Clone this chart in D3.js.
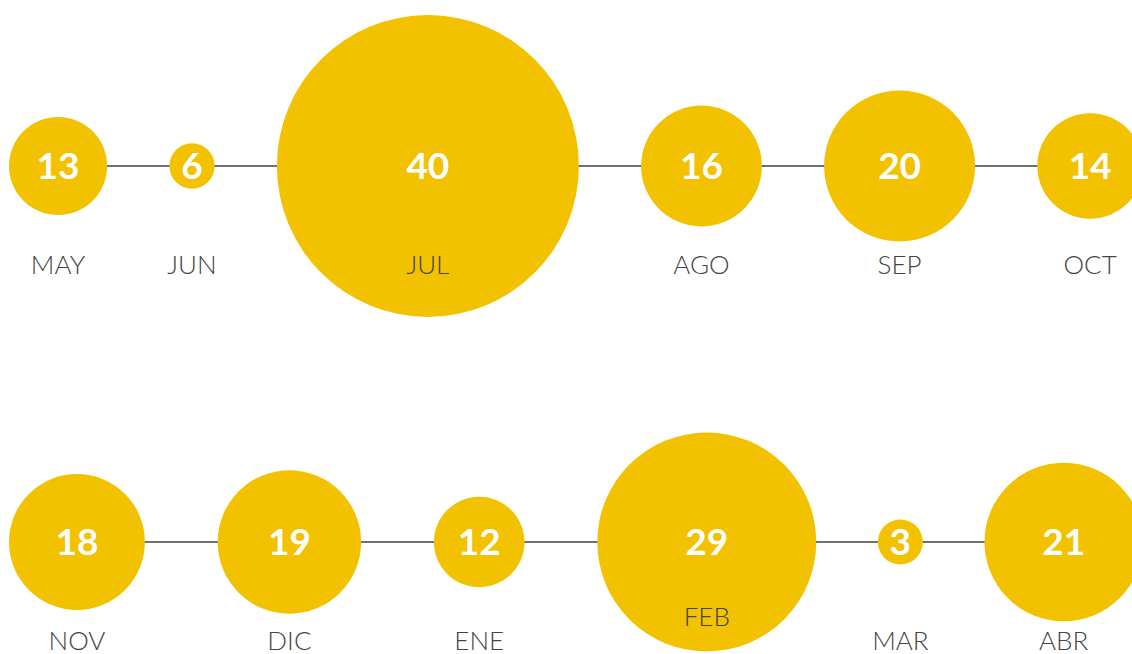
<!DOCTYPE html>
<html>
<head>
<meta charset="utf-8">
<script src="https://cdn.jsdelivr.net/npm/d3@7"></script>
<style>
  html, body { margin: 0; padding: 0; background: #fff; }
  svg { display: block; }
</style>
</head>
<body>
<div id="chart"></div>
<script>
// datos por fila
const row1Months = ['MAY', 'JUN', 'JUL', 'AGO', 'SEP', 'OCT'];
const row1Values = [13, 6, 40, 16, 20, 14];
const row2Months = ['NOV', 'DIC', 'ENE', 'FEB', 'MAR', 'ABR'];
const row2Values = [18, 19, 12, 29, 3, 21];

const width = 1132, height = 654;
const rowY = [166, 542];
const span = [9, 1143];
const yellow = '#F2C200';

const svg = d3.select('#chart')
    .append('svg')
    .attr('width', width)
    .attr('height', height);

// radio lineal al valor
const r = d3.scaleLinear()
    .domain([0, 40])
    .range([0, 151]);

function drawRow(months, values, cy) {
    const rows = months.map((m, i) => ({ month: m, value: values[i], r: r(values[i]) }));

    // espacio igual entre bordes de los círculos
    const total = d3.sum(rows, d => d.r * 2);
    const gap = (span[1] - span[0] - total) / (rows.length - 1);
    let x = span[0];
    rows.forEach(d => {
        d.cx = x + d.r;
        x += d.r * 2 + gap;
    });

    const g = svg.append('g');

    g.append('line')
        .attr('x1', rows[0].cx)
        .attr('x2', rows[rows.length - 1].cx)
        .attr('y1', cy)
        .attr('y2', cy)
        .attr('stroke', '#707070')
        .attr('stroke-width', 2);

    g.selectAll('circle')
        .data(rows)
        .enter()
        .append('circle')
        .attr('cx', d => d.cx)
        .attr('cy', cy)
        .attr('r', d => Math.max(d.r, 22.5))
        .attr('fill', yellow);

    g.selectAll('text.value')
        .data(rows)
        .enter()
        .append('text')
        .attr('class', 'value')
        .attr('x', d => d.cx)
        .attr('y', cy + 13)
        .attr('text-anchor', 'middle')
        .style('font-family', 'Lato, "Open Sans", sans-serif')
        .style('font-weight', 700)
        .style('font-size', '37px')
        .style('fill', '#fff')
        .text(d => d.value);

    g.selectAll('text.month')
        .data(rows)
        .enter()
        .append('text')
        .attr('class', 'month')
        .attr('x', d => d.cx)
        // FEB queda dentro del círculo, más arriba
        .attr('y', d => d.month === 'FEB' ? cy + 84 : cy + 108)
        .attr('text-anchor', 'middle')
        .style('font-family', 'Lato, "Open Sans", sans-serif')
        .style('font-weight', 300)
        .style('font-size', '26px')
        .style('fill', '#444')
        .text(d => d.month);
}

drawRow(row1Months, row1Values, rowY[0]);
drawRow(row2Months, row2Values, rowY[1]);
</script>
</body>
</html>
